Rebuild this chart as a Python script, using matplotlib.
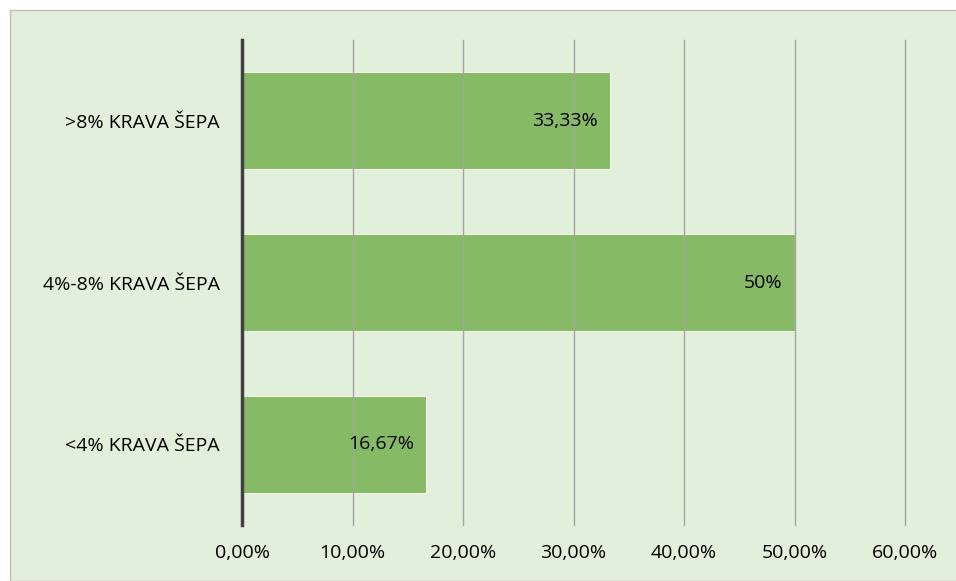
import matplotlib.pyplot as plt
from matplotlib.patches import Rectangle

categories = ['<4% KRAVA ŠEPA', '4%-8% KRAVA ŠEPA', '>8% KRAVA ŠEPA']
values = [16.67, 50.0, 33.33]
bar_labels = ['16,67%', '50%', '33,33%']
xticks = [0, 10, 20, 30, 40, 50, 60]
xtick_labels = ['0,00%', '10,00%', '20,00%', '30,00%', '40,00%', '50,00%', '60,00%']

plt.rcParams['font.family'] = ['Open Sans', 'DejaVu Sans']
plt.rcParams['font.stretch'] = 'normal'

W, H = 956, 581
fig = plt.figure(figsize=(W / 100, H / 100), dpi=100)
fig.patch.set_facecolor('white')
# chart area background with light border
fig.patches.append(Rectangle((10 / W, 0), 1, 1 - 10 / H, transform=fig.transFigure,
                             facecolor='#E2EFDA', edgecolor='#BFBFBF', lw=1, zorder=-5))

ax = fig.add_axes([242 / W, 1 - 525 / H, (905 - 242) / W, (525 - 40) / H])
ax.set_facecolor('none')

ax.barh(range(len(values)), values, height=0.6, color='#70AD47', alpha=0.8,
        edgecolor='white', linewidth=0.8, zorder=1)
for i, (v, lab) in enumerate(zip(values, bar_labels)):
    ax.annotate(lab, (v, i), xytext=(-9, 0), textcoords='offset points',
                ha='right', va='center', fontsize=14, color='black', zorder=3)

ax.set_xlim(0, 60)
ax.set_ylim(-0.5, 2.5)
ax.set_xticks(xticks)
ax.set_xticklabels(xtick_labels, fontsize=14)
ax.set_yticks(range(len(categories)))
ax.set_yticklabels(categories, fontsize=14)
ax.tick_params(length=0)
ax.tick_params(axis='x', pad=14)
ax.tick_params(axis='y', pad=16)
ax.grid(axis='x', color='#A5A5A5', linewidth=1, zorder=2)
for gl in ax.get_xgridlines():
    gl.set_clip_on(False)
ax.set_axisbelow(False)
for s in ['top', 'right', 'bottom']:
    ax.spines[s].set_visible(False)
ax.spines['left'].set_color('#404040')
ax.spines['left'].set_linewidth(2.5)
ax.spines['left'].set_zorder(4)

fig.savefig('out.png', dpi=100, facecolor=fig.get_facecolor())
